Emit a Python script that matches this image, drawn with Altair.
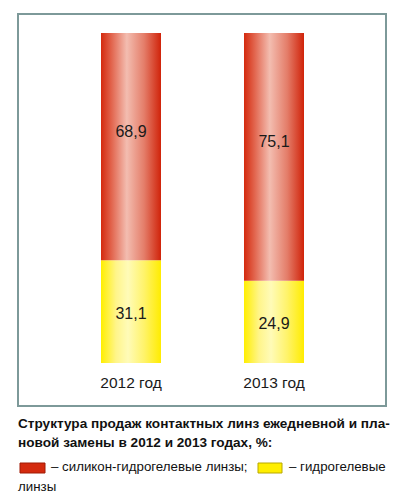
import altair as alt
import pandas as pd

# Sales structure of daily and planned-replacement contact lenses, %
years = ["2012 год", "2013 год"]
silicone_hydrogel = [68.9, 75.1]
hydrogel = [31.1, 24.9]

title_lines = [
    "Структура продаж контактных линз ежедневной и пла-",
    "новой замены в 2012 и 2013 годах, %:",
]
legend_silicone = "– силикон-гидрогелевые линзы;"
legend_hydrogel = "– гидрогелевые"
legend_wrap = "линзы"

FONT = "Liberation Sans Narrow, Arial Narrow, Liberation Sans, Arial, sans-serif"
BODY_FONT = "Liberation Sans, Arial, Helvetica, sans-serif"


def fmt(v):
    return f"{v:.1f}".replace(".", ",")


rows = []
for yr, s, h in zip(years, silicone_hydrogel, hydrogel):
    rows.append({"year": yr, "kind": "hydrogel", "start": 0.0, "end": h, "label": fmt(h)})
    rows.append({"year": yr, "kind": "silicone", "start": h, "end": h + s, "label": fmt(s)})
df = pd.DataFrame(rows)

x_enc = alt.X(
    "year:N",
    scale=alt.Scale(domain=years, range=[59.5, 345.5], paddingInner=0, paddingOuter=0),
    axis=None,
)
y_scale = alt.Scale(domain=[0, 100], range=[363, 33])

red_grad = alt.Gradient(
    gradient="linear",
    x1=0, x2=1, y1=0, y2=0,
    stops=[
        alt.GradientStop(color="#d42a0e", offset=0),
        alt.GradientStop(color="#e2664f", offset=0.18),
        alt.GradientStop(color="#f3bdb0", offset=0.43),
        alt.GradientStop(color="#e47d69", offset=0.72),
        alt.GradientStop(color="#d0230a", offset=1),
    ],
)
yellow_grad = alt.Gradient(
    gradient="linear",
    x1=0, x2=1, y1=0, y2=0,
    stops=[
        alt.GradientStop(color="#ffee00", offset=0),
        alt.GradientStop(color="#fff58a", offset=0.25),
        alt.GradientStop(color="#fffbb8", offset=0.45),
        alt.GradientStop(color="#fff36a", offset=0.72),
        alt.GradientStop(color="#ffec00", offset=1),
    ],
)

base = alt.Chart(df)

bars_red = base.transform_filter(alt.datum.kind == "silicone").mark_bar(
    size=60, color=red_grad
).encode(x=x_enc, y=alt.Y("start:Q", scale=y_scale, axis=None), y2="end:Q")

bars_yellow = base.transform_filter(alt.datum.kind == "hydrogel").mark_bar(
    size=60, color=yellow_grad
).encode(x=x_enc, y=alt.Y("start:Q", scale=y_scale, axis=None), y2="end:Q")


def value_labels(kind, dy):
    return base.transform_filter(alt.datum.kind == kind).transform_calculate(
        mid="(datum.start + datum.end) / 2"
    ).mark_text(
        font=BODY_FONT, fontSize=16, color="#1a1a1a", baseline="middle", dy=dy
    ).encode(x=x_enc, y=alt.Y("mid:Q", scale=y_scale, axis=None), text="label:N")


cat_labels = alt.Chart(pd.DataFrame({"year": years})).mark_text(
    font=BODY_FONT, fontSize=15.5, color="#1a1a1a", baseline="middle"
).encode(x=x_enc, y=alt.value(383), text="year:N")

frame = alt.Chart(pd.DataFrame({"a": [0]})).mark_rect(
    fill="white", stroke="#7d9999", strokeWidth=2
).encode(x=alt.value(18), x2=alt.value(386), y=alt.value(14), y2=alt.value(406))


def text_line(txt, x, y, size, bold=False, font=FONT):
    return alt.Chart(pd.DataFrame({"t": [txt]})).mark_text(
        align="left", baseline="alphabetic", font=font, fontSize=size,
        fontWeight="bold" if bold else "normal", color="#111111",
    ).encode(x=alt.value(x), y=alt.value(y), text="t:N")


def swatch(x0, x1, fill, stroke):
    return alt.Chart(pd.DataFrame({"a": [0]})).mark_rect(
        fill=fill, stroke=stroke, strokeWidth=1
    ).encode(x=alt.value(x0), x2=alt.value(x1), y=alt.value(463), y2=alt.value(473))


layers = [
    frame,
    bars_yellow,
    bars_red,
    value_labels("silicone", -15),
    value_labels("hydrogel", 2),
    cat_labels,
    text_line(title_lines[0], 18, 428, 13.6, bold=True),
    text_line(title_lines[1], 18, 447, 13.6, bold=True),
    swatch(20, 45, "#d42a0e", "#a01a05"),
    text_line(legend_silicone, 51, 471, 13.3, font=BODY_FONT),
    swatch(258, 282, "#ffee00", "#b8a800"),
    text_line(legend_hydrogel, 289, 471, 13.3, font=BODY_FONT),
    text_line(legend_wrap, 18, 491, 13.3, font=BODY_FONT),
]

chart = alt.layer(*layers).properties(
    width=400, height=499, autosize="none", padding=0, background="white"
).configure_view(stroke=None)

chart.save("out.html", embed_options={"renderer": "svg", "actions": False})
